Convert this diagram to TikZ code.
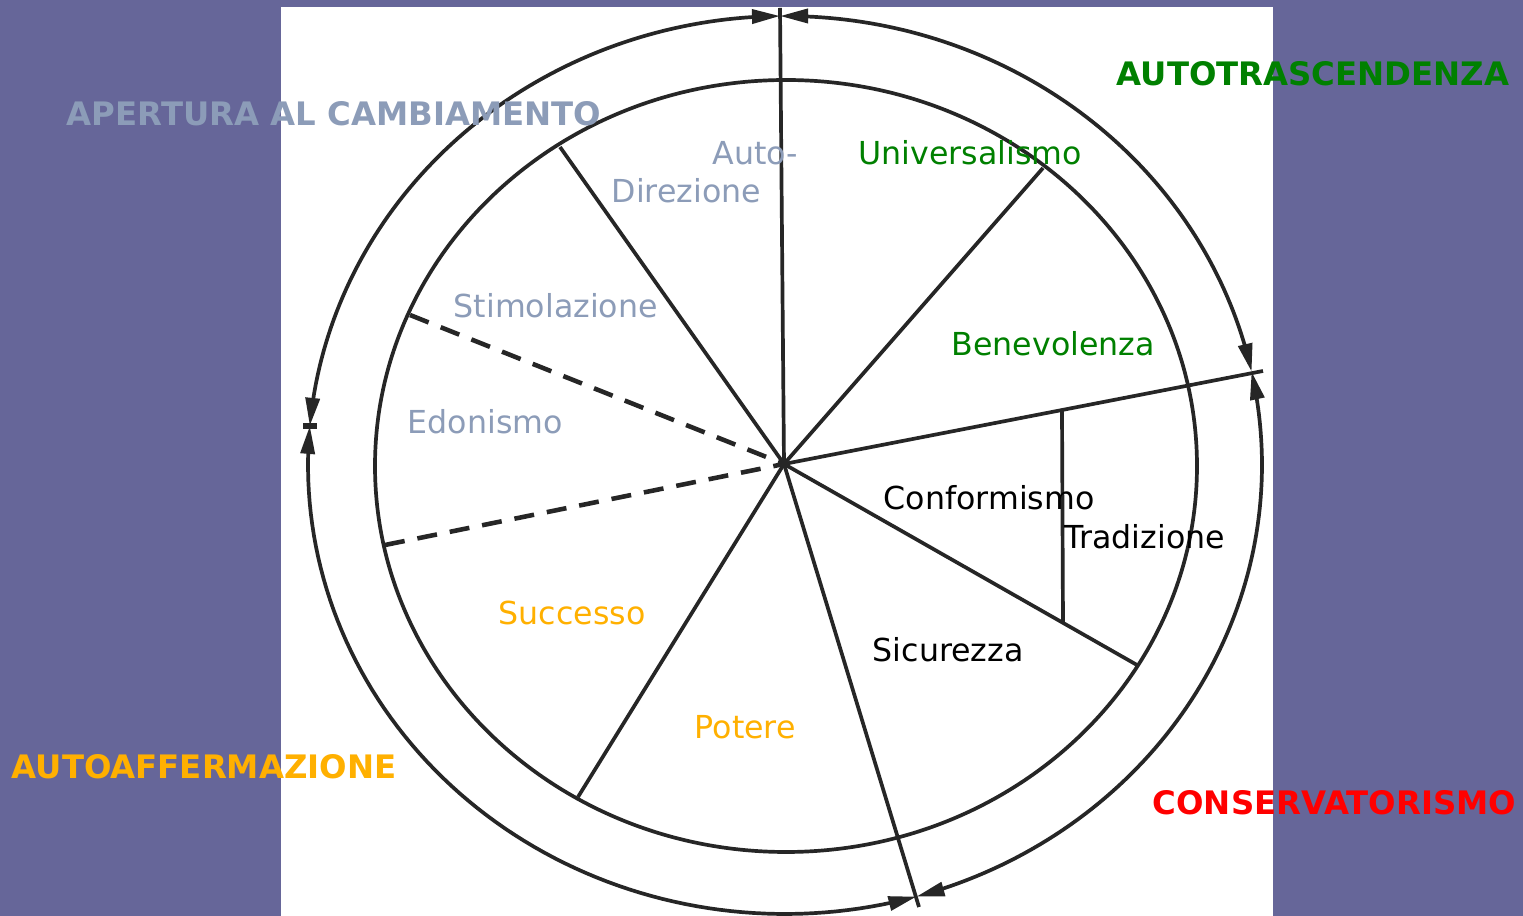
\documentclass[tikz,border=0pt]{standalone}
\usepackage{fontspec}
\setmainfont{DejaVu Sans}
\usetikzlibrary{arrows.meta}
\definecolor{bgpurple}{HTML}{666699}
\definecolor{apblue}{HTML}{8C9CB8}
\definecolor{atgreen}{HTML}{008000}
\definecolor{aforange}{HTML}{FFB000}
\definecolor{csred}{HTML}{FF0000}
\tikzset{
    lbl/.style={anchor=west, inner sep=0pt, font=\fontsize{9}{10}\selectfont},
    head/.style={anchor=west, inner sep=0pt, font=\fontsize{9.2}{10}\selectfont\bfseries},
    ring/.style={line width=1.05pt, draw=black!85},
    spoke/.style={line width=1.05pt, draw=black!85},
    dashspoke/.style={line width=1.3pt, draw=black!85, dash pattern=on 2mm off 1.3mm},
}
\begin{document}
\begin{tikzpicture}[x=0.01cm, y=-0.01cm, >={Triangle[length=2.8mm,width=1.4mm]}]
\useasboundingbox (0,0) rectangle (1523,916);
\fill[bgpurple] (0,0) rectangle (1523,916);
\fill[white] (281,7) rectangle (1273,916);

% inner ring
\draw[ring] (786,466) ellipse [x radius=411, y radius=386];

% outer ring, four arcs with arrows at both ends
\foreach \a/\b in {-90.6/-12, -12/74, 74/185, 185/269.4} {
    \draw[ring, <->] plot[domain=\a:\b, samples=80]
        ({785+477*cos(\x)}, {465+449*sin(\x)});
};
\coordinate (tickl) at (303,426);
\coordinate (tickr) at (317,426);
\draw[line width=1.5pt, black!85] (tickl) -- (tickr);

% spokes
\coordinate (O) at (784,464);
\coordinate (up) at (780,8);
\coordinate (univ) at (1043,168);
\coordinate (right) at (1263,371);
\coordinate (sic) at (1137,665);
\coordinate (down) at (919,907);
\coordinate (pot) at (578,797);
\coordinate (succ) at (385,545);
\coordinate (stim) at (410,315);
\coordinate (dir) at (560,147);
\coordinate (tradup) at (1062,410);
\coordinate (traddn) at (1063,623);
\foreach \e in {up, univ, right, sic, down, pot, dir} {
    \draw[spoke] (O) -- (\e);
};
\foreach \e in {succ, stim} {
    \draw[dashspoke] (\e) -- (O);
};
\draw[spoke] (tradup) -- (traddn);

% values
\node[lbl, text=apblue] (auto) at (712,153) {Auto-};
\node[lbl, text=apblue] (direz) at (611,191) {Direzione};
\node[lbl, text=atgreen] (univl) at (858,153) {Universalismo};
\node[lbl, text=apblue] (stiml) at (453,306) {Stimolazione};
\node[lbl, text=atgreen] (benev) at (951,344) {Benevolenza};
\node[lbl, text=apblue] (edon) at (407,422) {Edonismo};
\node[lbl] (conf) at (883,498) {Conformismo};
\node[lbl] (trad) at (1064,537) {Tradizione};
\node[lbl, text=aforange] (succl) at (498,613) {Successo};
\node[lbl] (sicl) at (872,650) {Sicurezza};
\node[lbl, text=aforange] (potl) at (694,727) {Potere};

% higher order dimensions
\node[head, text=apblue] (apert) at (66,114) {APERTURA AL CAMBIAMENTO};
\node[head, text=atgreen] (autotr) at (1116,74) {AUTOTRASCENDENZA};
\node[head, text=aforange] (autoaf) at (11,767) {AUTOAFFERMAZIONE};
\node[head, text=csred] (conserv) at (1152,803) {CONSERVATORISMO};
\end{tikzpicture}
\end{document}
